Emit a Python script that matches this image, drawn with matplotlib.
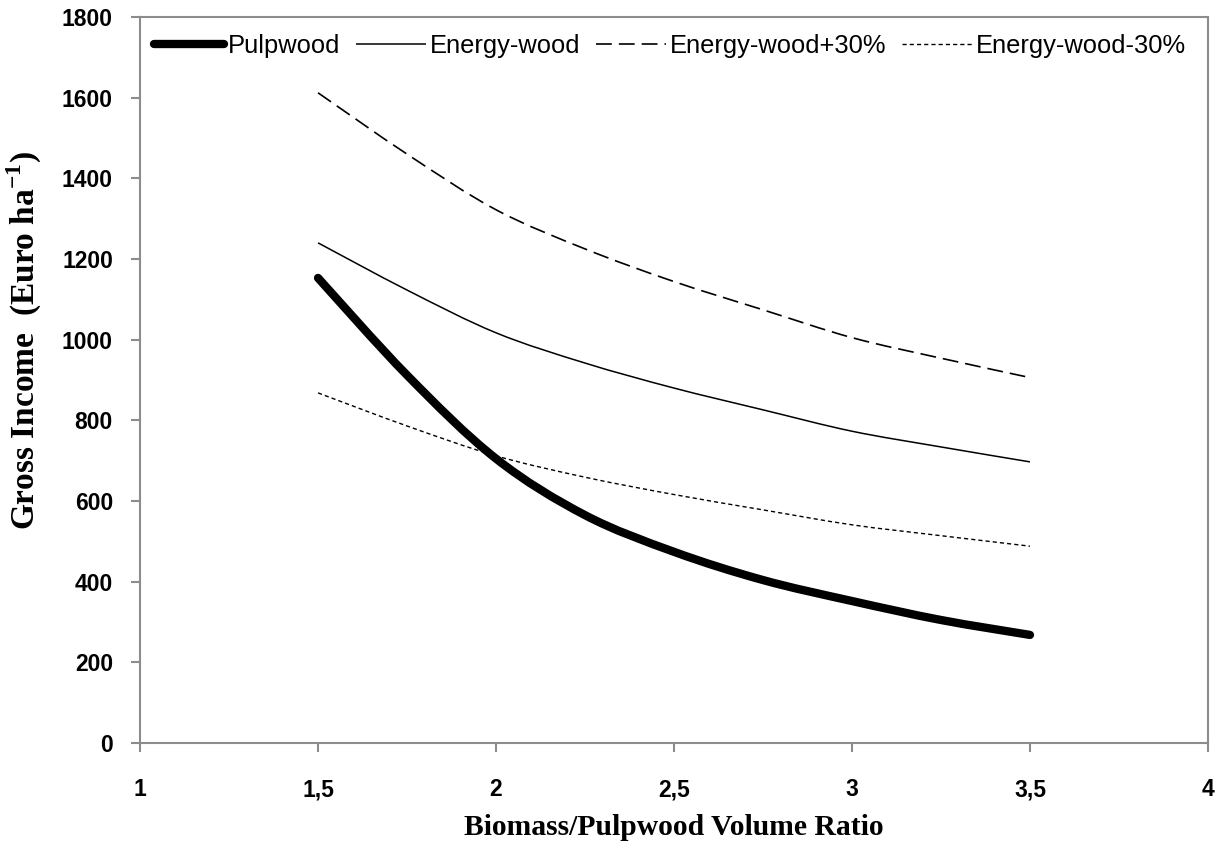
import matplotlib
matplotlib.use("Agg")
import matplotlib.pyplot as plt
from matplotlib.path import Path
from matplotlib.patches import PathPatch
from matplotlib.lines import Line2D
from matplotlib.ticker import FuncFormatter

# values
ratio = [1.5, 1.75, 2.0, 2.25, 2.5, 2.75, 3.0, 3.25, 3.5]
pulpwood = [1153, 912, 705, 565, 474, 404, 352, 305, 268]
energy_wood = [1240, 1123, 1017, 942, 880, 826, 773, 734, 697]
energy_plus30 = [1612, 1460, 1322, 1225, 1144, 1074, 1005, 954, 906]
energy_minus30 = [868, 786, 712, 659, 616, 578, 541, 514, 488]

labels = ["Pulpwood", "Energy-wood", "Energy-wood+30%", "Energy-wood-30%"]
x_ticks = [1, 1.5, 2, 2.5, 3, 3.5, 4]
y_ticks = list(range(0, 1801, 200))

plt.rcParams["mathtext.fontset"] = "custom"
plt.rcParams["mathtext.rm"] = "Liberation Serif:bold"
plt.rcParams["mathtext.bf"] = "Liberation Serif:bold"


def smooth_path(xs, ys):
    # Excel-style smoothed line: bezier segments through each data point
    pts = list(zip(xs, ys))
    verts = [pts[0]]
    codes = [Path.MOVETO]
    for i in range(len(pts) - 1):
        p0 = pts[max(i - 1, 0)]
        p1 = pts[i]
        p2 = pts[i + 1]
        p3 = pts[min(i + 2, len(pts) - 1)]
        c1 = (p1[0] + (p2[0] - p0[0]) / 6, p1[1] + (p2[1] - p0[1]) / 6)
        c2 = (p2[0] - (p3[0] - p1[0]) / 6, p2[1] - (p3[1] - p1[1]) / 6)
        verts += [c1, c2, p2]
        codes += [Path.CURVE4] * 3
    return Path(verts, codes)


fig = plt.figure(figsize=(12.22, 8.48), dpi=100)
ax = fig.add_axes([0.1146, 0.1238, 0.8739, 0.8562])

styles = [
    dict(lw=6, ls="-", capstyle="round"),
    dict(lw=1.1, ls="-", capstyle="butt"),
    dict(lw=1.2, ls=(0, (9.5, 4.2)), capstyle="butt"),
    dict(lw=1.0, ls=(0, (3, 2.2)), capstyle="butt"),
]
series = [pulpwood, energy_wood, energy_plus30, energy_minus30]

handles = []
for ys, st, lab in zip(series, styles, labels):
    ax.add_patch(PathPatch(smooth_path(ratio, ys), fill=False, edgecolor="black",
                           lw=st["lw"], linestyle=st["ls"],
                           capstyle=st["capstyle"], joinstyle="round"))
    handles.append(Line2D([], [], color="black", lw=st["lw"], linestyle=st["ls"],
                          solid_capstyle=st["capstyle"], label=lab))

ax.set_xlim(1, 4)
ax.set_ylim(0, 1800)
ax.set_xticks(x_ticks)
ax.set_yticks(y_ticks)
ax.xaxis.set_major_formatter(FuncFormatter(lambda v, p: f"{v:g}".replace(".", ",")))

grey = "#8c8c8c"
for s in ax.spines.values():
    s.set_color(grey)
    s.set_linewidth(1.5)

ax.tick_params(axis="both", direction="out", length=6.5, width=1.5, color=grey,
               labelsize=16.5)
ax.tick_params(axis="x", pad=19)
ax.tick_params(axis="y", pad=13)
for lab in ax.get_xticklabels() + ax.get_yticklabels():
    lab.set_fontfamily("Liberation Sans")
    lab.set_fontweight("bold")

ax.set_xlabel("Biomass/Pulpwood Volume Ratio", fontfamily="Liberation Serif",
              fontweight="bold", fontsize=21.3)
ax.xaxis.set_label_coords(0.5, -0.098)
ax.set_ylabel("Gross Income  (Euro ha$^{-1}$)", fontfamily="Liberation Serif",
              fontweight="bold", fontsize=24)
ax.yaxis.set_label_coords(-0.090, 0.555)

ax.legend(handles=handles, loc="center left", bbox_to_anchor=(0.006, 0.96), ncol=4,
          frameon=False, prop={"family": "Liberation Sans", "size": 18.4},
          handlelength=2.75, handletextpad=0.15, columnspacing=0.6,
          borderaxespad=0.0, borderpad=0.3)

fig.savefig("out.png", dpi=100)
